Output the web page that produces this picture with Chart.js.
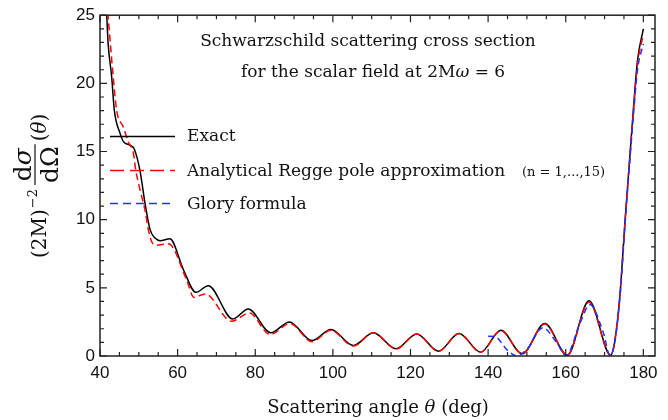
<!DOCTYPE html>
<html>
<head>
<meta charset="utf-8">
<script src="https://cdn.jsdelivr.net/npm/chart.js@4.4.0/dist/chart.umd.min.js"></script>
<style>
html, body { margin: 0; padding: 0; background: #fff; }
#wrap { width: 668px; height: 420px; position: relative; }
</style>
</head>
<body>
<div id="wrap"><canvas id="chart"></canvas></div>
<script>
// Scattering angle (deg) and (2M)^-2 dsigma/dOmega
const exactAngle = [41.7, 42.1, 43.0, 43.7, 45.15, 46.0, 47.8, 48.8, 50.3, 51.6, 52.9, 54.2, 55.5, 58.0, 61.5, 64.7, 67.9,
    74.2, 78.2, 84.0, 88.8, 94.6, 99.5, 105.3, 110.4, 116.3, 121.6, 127.2, 132.5, 138.1, 143.3, 148.8, 154.6, 160.4, 166.0,
    171.6, 172.7, 174.0, 175.3, 177.4, 178.5, 180.0];
const exactSigma = [25.2, 22.9, 20.5, 18.0, 16.35, 15.75, 15.45, 15.2, 13.6, 11.2, 9.27, 8.65, 8.45, 8.6, 6.33, 4.67, 5.16,
    2.72, 3.45, 1.7, 2.5, 1.13, 1.94, 0.77, 1.7, 0.53, 1.62, 0.35, 1.65, 0.28, 1.89, 0.16, 2.38, 0.06, 4.06,
    0.06, 1.2, 4.6, 10.0, 18.0, 21.7, 24.0];

const reggeAngle = [42.0, 43.4, 44.3, 46.0, 47.3, 48.6, 49.2, 50.3, 51.6, 52.45, 53.3, 54.6, 57.6, 62.3, 64.2, 67.1,
    73.9, 78.5, 83.8, 89.0, 94.6, 99.5, 105.3, 110.4, 116.3, 121.6, 127.2, 132.5, 138.1, 143.3, 148.8, 154.6, 160.4, 166.0,
    171.6, 172.7, 174.0, 175.3, 177.4, 178.5, 180.0];
const reggeSigma = [25.2, 20.5, 18.0, 16.8, 15.7, 14.9, 13.65, 12.2, 10.7, 9.27, 8.4, 8.12, 8.24, 5.6, 4.3, 4.55,
    2.55, 3.16, 1.57, 2.38, 1.05, 1.88, 0.73, 1.7, 0.52, 1.62, 0.34, 1.65, 0.28, 1.87, 0.15, 2.35, 0.06, 3.95,
    0.05, 1.2, 4.55, 9.9, 17.8, 21.4, 23.6];

const gloryAngle = [140.0, 141.8, 144.8, 147.2, 150.0, 154.1, 157.7, 160.1, 163.7, 166.2, 169.7, 171.4, 172.7, 174.0,
    175.3, 177.4, 178.5, 180.0];
const glorySigma = [1.45, 1.42, 0.48, 0.02, 0.48, 2.08, 0.97, 0.03, 2.43, 3.77, 1.7, 0.03, 1.1, 4.4,
    9.7, 17.5, 21.0, 22.9];

const xTicks = [40, 60, 80, 100, 120, 140, 160, 180];
const xMinorTicks = [45, 50, 55, 65, 70, 75, 85, 90, 95, 105, 110, 115, 125, 130, 135, 145, 150, 155, 165, 170, 175];
const yTicks = [0, 5, 10, 15, 20, 25];
const yMinorTicks = [1, 2, 3, 4, 6, 7, 8, 9, 11, 12, 13, 14, 16, 17, 18, 19, 21, 22, 23, 24];

const serif = '"DejaVu Serif", serif';
const sans = '"Liberation Sans", Arial, sans-serif';

function toPoints(xs, ys) {
    return xs.map((x, i) => ({ x: x, y: ys[i] }));
}

// draw a run of text pieces with their own fonts
function drawRich(ctx, parts, x, y, align) {
    let total = 0;
    parts.forEach(p => { ctx.font = p[1]; total += ctx.measureText(p[0]).width; });
    let cx = align === 'center' ? x - total / 2 : x;
    ctx.textAlign = 'left';
    parts.forEach(p => {
        ctx.font = p[1];
        ctx.fillText(p[0], cx, y);
        cx += ctx.measureText(p[0]).width;
    });
    return total;
}

function richWidth(ctx, parts) {
    let total = 0;
    parts.forEach(p => { ctx.font = p[1]; total += ctx.measureText(p[0]).width; });
    return total;
}

// Frame, inward ticks, title, legend and axis titles
const framePlugin = {
    id: 'frame',
    afterDraw(chart) {
        const ctx = chart.ctx;
        const a = chart.chartArea;
        const sx = chart.scales.x;
        const sy = chart.scales.y;
        ctx.save();
        ctx.strokeStyle = '#222';
        ctx.lineWidth = 1.5;
        ctx.setLineDash([]);
        ctx.strokeRect(a.left, a.top, a.right - a.left, a.bottom - a.top);

        function xTick(list, len) {
            list.forEach(v => {
                const px = sx.getPixelForValue(v);
                ctx.beginPath();
                ctx.moveTo(px, a.bottom); ctx.lineTo(px, a.bottom - len);
                ctx.moveTo(px, a.top); ctx.lineTo(px, a.top + len);
                ctx.stroke();
            });
        }
        function yTick(list, len) {
            list.forEach(v => {
                const py = sy.getPixelForValue(v);
                ctx.beginPath();
                ctx.moveTo(a.left, py); ctx.lineTo(a.left + len, py);
                ctx.moveTo(a.right, py); ctx.lineTo(a.right - len, py);
                ctx.stroke();
            });
        }
        ctx.lineWidth = 1.2;
        xTick(xTicks, 7);
        xTick(xMinorTicks, 4);
        yTick(yTicks, 7);
        yTick(yMinorTicks, 4);

        ctx.fillStyle = '#111';
        ctx.textBaseline = 'alphabetic';

        // title inside the plot
        drawRich(ctx, [['Schwarzschild scattering cross section', '17px ' + serif]], 368, 46, 'center');
        drawRich(ctx, [['for the scalar field at 2M', '17px ' + serif], ['\u03c9', 'italic 17px ' + serif],
            [' = 6', '17px ' + serif]], 373, 77, 'center');

        // legend
        ctx.lineWidth = 1.5;
        ctx.strokeStyle = '#000';
        ctx.beginPath(); ctx.moveTo(110, 136.5); ctx.lineTo(175, 136.5); ctx.stroke();
        ctx.strokeStyle = '#ff0000';
        ctx.setLineDash([14, 6]);
        ctx.beginPath(); ctx.moveTo(110, 170.5); ctx.lineTo(175, 170.5); ctx.stroke();
        ctx.strokeStyle = '#2233ff';
        ctx.setLineDash([8, 5]);
        ctx.beginPath(); ctx.moveTo(110, 203.5); ctx.lineTo(175, 203.5); ctx.stroke();
        ctx.setLineDash([]);

        drawRich(ctx, [['Exact', '17px ' + serif]], 187, 141);
        drawRich(ctx, [['Analytical Regge pole approximation', '17px ' + serif]], 187, 176);
        drawRich(ctx, [['(n = 1,...,15)', '13px ' + serif]], 522, 176);
        drawRich(ctx, [['Glory formula', '17px ' + serif]], 187, 209);

        // x-axis title
        drawRich(ctx, [['Scattering angle ', '18px ' + serif], ['\u03b8', 'italic 18px ' + serif],
            [' (deg)', '18px ' + serif]], 378, 413, 'center');

        // y-axis title, rotated
        ctx.translate(0, 258);
        ctx.rotate(-Math.PI / 2);
        let u = drawRich(ctx, [['(2M)', '20px ' + serif]], 0, 46);
        u += 1;
        u += drawRich(ctx, [['\u22122', '13px ' + serif]], u, 37) + 4;
        const num = [['d', '25px ' + serif], ['\u03c3', 'italic 25px ' + serif]];
        const den = [['d\u03a9', '25px ' + serif]];
        const w = Math.max(richWidth(ctx, num), richWidth(ctx, den)) + 4;
        ctx.strokeStyle = '#111';
        ctx.lineWidth = 1.2;
        ctx.beginPath(); ctx.moveTo(u, 35); ctx.lineTo(u + w, 35); ctx.stroke();
        drawRich(ctx, num, u + w / 2, 31, 'center');
        drawRich(ctx, den, u + w / 2, 58, 'center');
        u += w + 3;
        drawRich(ctx, [['(', '20px ' + serif], ['\u03b8', 'italic 20px ' + serif], [')', '20px ' + serif]], u, 46);
        ctx.restore();
    }
};

const ctx = document.getElementById('chart').getContext('2d');
const chart = new Chart(ctx, {
    type: 'line',
    data: {
        datasets: [{
            label: 'Exact',
            data: toPoints(exactAngle, exactSigma),
            borderColor: '#000000',
            borderWidth: 1.5,
            order: 3
        }, {
            label: 'Analytical Regge pole approximation (n = 1,...,15)',
            data: toPoints(reggeAngle, reggeSigma),
            borderColor: '#ff0000',
            borderWidth: 1.5,
            borderDash: [7, 4],
            order: 2
        }, {
            label: 'Glory formula',
            data: toPoints(gloryAngle, glorySigma),
            borderColor: '#2233ff',
            borderWidth: 1.5,
            borderDash: [6, 4],
            order: 1
        }]
    },
    options: {
        responsive: true,
        maintainAspectRatio: false,
        animation: false,
        layout: { padding: { left: 0, right: 13, top: 15, bottom: 0 } },
        elements: {
            point: { radius: 0 },
            line: { cubicInterpolationMode: 'monotone', fill: false }
        },
        plugins: {
            legend: { display: false },
            tooltip: { enabled: false }
        },
        scales: {
            x: {
                type: 'linear',
                min: 40,
                max: 183,
                grid: { display: false, drawTicks: false },
                border: { display: false },
                afterBuildTicks: s => { s.ticks = xTicks.map(v => ({ value: v })); },
                afterFit: s => { s.height = 64; },
                ticks: { font: { family: sans, size: 17 }, color: '#111', padding: 7, maxRotation: 0 }
            },
            y: {
                min: 0,
                max: 25,
                grid: { display: false, drawTicks: false },
                border: { display: false },
                afterBuildTicks: s => { s.ticks = yTicks.map(v => ({ value: v })); },
                afterFit: s => { s.width = 100; },
                ticks: { font: { family: sans, size: 17 }, color: '#111', padding: 5 }
            }
        }
    },
    plugins: [framePlugin]
});
</script>
</body>
</html>
